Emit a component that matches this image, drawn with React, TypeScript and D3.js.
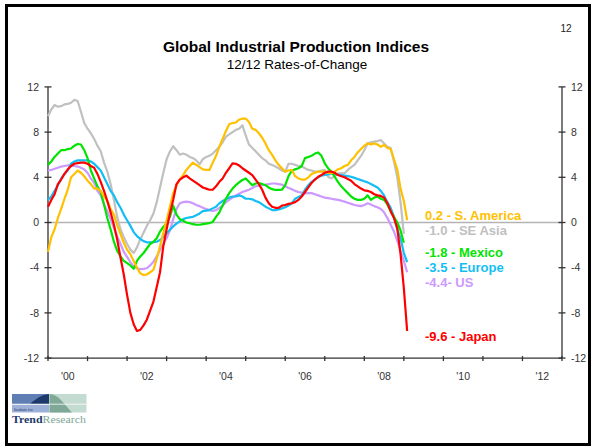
import React from "react";
import * as d3 from "d3";

// monthly 12/12 rates-of-change, month 0 = Jan 2000
const seAsia = [
  9.4, 10.0, 10.4, 10.25, 10.3, 10.45, 10.5, 10.6, 10.85, 10.75, 9.8, 8.8,
  8.3, 7.9, 7.4, 6.8, 6.3, 5.3, 4.5, 3.4, 2.0, 0.5, -0.6, -1.3,
  -1.9, -2.4, -2.7, -2.2, -1.5, -0.9, -0.3, 0.2, 0.8, 1.8, 3.1, 4.4,
  5.6, 6.3, 6.75, 6.4, 6.0, 6.1, 6.0, 5.8, 5.7, 5.5, 5.15, 5.6,
  5.8, 5.9, 6.1, 6.4, 6.7, 7.1, 7.6, 7.8, 8.0, 8.2, 8.3, 8.6,
  7.7, 6.9, 6.6, 6.3, 6.0, 5.7, 5.5, 5.2, 5.1, 4.95, 4.8, 4.6,
  4.5, 5.2, 5.2, 5.1, 5.0, 4.95, 4.8, 4.65, 4.6, 4.5, 4.5, 4.6,
  4.65, 4.05, 3.9, 4.1, 4.35, 4.35, 4.35, 4.65, 4.9, 5.1, 5.5, 5.9,
  6.4, 7.0, 7.1, 7.15, 7.2, 7.3, 7.0, 6.7, 6.6, 5.4, 4.0, 1.8,
  -1.0,
];

const sAmerica = [
  -2.6, -1.3, -0.6, 0.4, 1.2, 2.1, 2.9, 4.0, 4.3, 4.6, 4.4, 4.1,
  3.7, 3.4, 3.0, 3.0, 2.8, 2.3, 1.9, 1.2, 0.7, -0.2, -1.0, -1.8,
  -2.4, -2.8, -3.4, -4.0, -4.5, -4.65, -4.6, -4.4, -4.2, -3.2, -2.1, -0.9,
  0.2, 1.4, 2.6, 3.3, 3.8, 4.2, 4.65, 5.0, 5.3, 5.1, 4.9, 4.7,
  4.65, 4.65, 5.3, 5.9, 6.7, 7.4, 8.1, 8.7, 8.8, 8.85, 9.1, 9.2,
  9.2, 8.9, 8.3, 8.2, 7.9, 7.5, 7.0, 6.4, 6.0, 5.5, 5.1, 4.8,
  4.5, 4.6, 4.65, 4.1, 3.9, 3.8, 3.8, 4.0, 4.3, 4.4, 4.5, 4.5,
  4.5, 4.4, 4.35, 4.5, 4.7, 4.8, 5.0, 5.1, 5.5, 5.8, 6.2, 6.5,
  6.8, 7.0, 6.9, 7.0, 6.9, 6.7, 6.86, 6.6, 6.5, 5.6, 4.7, 3.0,
  1.9, 0.2,
];

const mexico = [
  5.1, 5.4, 5.8, 6.1, 6.4, 6.4, 6.5, 6.55, 6.8, 6.95, 6.9, 6.4,
  5.7, 4.6, 3.9, 3.2, 2.7, 1.6, 0.4, -0.6, -1.7, -2.5, -3.0, -3.4,
  -3.6, -3.8, -4.1, -3.4, -3.0, -2.7, -2.3, -1.9, -1.7, -1.4, -0.8, -0.4,
  -0.07, 0.5, 1.5, 0.7, 0.3, 0.15, 0.0, -0.07, -0.15, -0.2, -0.2, -0.15,
  -0.1, -0.05, 0.05, 0.5, 0.9, 1.5, 2.1, 2.6, 3.0, 3.3, 3.55, 3.76,
  3.9, 3.6, 3.3, 3.45, 3.5, 3.4, 3.3, 3.1, 2.95, 2.88, 2.88, 2.9,
  3.3, 4.1, 4.6, 4.7, 4.8, 5.0, 5.7, 5.8, 5.9, 6.1, 6.2, 5.9,
  5.24, 4.8, 4.5, 4.05, 3.6, 3.2, 2.9, 2.6, 2.3, 2.1, 2.0, 2.0,
  2.1, 2.4, 2.0, 2.2, 2.3, 2.1, 2.0, 1.6, 1.0, 0.5, 0.0, -0.7,
  -1.8,
];

const europe = [
  2.0, 2.3, 2.8, 3.3, 3.9, 4.3, 4.6, 5.2, 5.4, 5.5, 5.5, 5.5,
  5.5, 5.4, 5.2, 4.9, 4.6, 4.0, 3.4, 2.8, 2.4, 1.8, 1.3, 0.7,
  0.2, -0.3, -0.85, -1.2, -1.45, -1.65, -1.75, -1.75, -1.75, -1.7, -1.55, -1.3,
  -0.96, -0.65, -0.35, -0.1, 0.1, 0.3, 0.4, 0.45, 0.5, 0.65, 0.8, 1.0,
  1.05, 1.1, 1.25, 1.4, 1.7, 1.9, 2.05, 2.2, 2.3, 2.3, 2.4, 2.3,
  2.1, 2.1, 2.05, 1.9, 1.8, 1.6, 1.4, 1.25, 1.1, 1.1, 1.15, 1.25,
  1.35, 1.5, 1.7, 2.1, 2.25, 2.4, 2.9, 3.3, 3.6, 3.8, 4.0, 4.15,
  4.2, 4.25, 4.3, 4.3, 4.25, 4.2, 4.15, 4.1, 4.05, 3.95, 3.85, 3.75,
  3.65, 3.55, 3.4, 3.25, 3.1, 2.8, 2.4, 1.8, 1.3, 0.5, -0.6, -1.4,
  -2.7, -3.5,
];

const us = [
  4.6, 4.65, 4.75, 4.85, 4.95, 5.0, 5.05, 5.06, 5.0, 4.95, 4.85, 4.7,
  4.4, 3.9, 3.5, 2.8, 2.4, 1.6, 1.0, 0.3, -0.5, -1.2, -1.9, -2.6,
  -3.05, -3.5, -3.9, -4.05, -4.12, -4.1, -4.05, -3.8, -3.47, -3.0, -2.43, -1.9,
  -1.4, -0.7, 0.3, 1.2, 1.7, 1.8, 1.85, 1.8, 1.7, 1.55, 1.45, 1.3,
  1.2, 1.1, 1.02, 1.1, 1.3, 1.5, 1.8, 2.0, 2.2, 2.4, 2.55, 2.7,
  2.8, 2.9, 3.05, 3.2, 3.25, 3.3, 3.35, 3.4, 3.45, 3.45, 3.4, 3.35,
  3.2, 3.05, 2.95, 2.8, 2.7, 2.65, 2.58, 2.6, 2.6, 2.5, 2.4, 2.3,
  2.2, 2.15, 2.1, 2.05, 2.0, 1.93, 1.85, 1.75, 1.65, 1.55, 1.5, 1.45,
  1.55, 1.7, 1.6, 1.45, 1.35, 1.2, 0.9, 0.4, -0.2, -0.8, -1.6, -2.5,
  -3.4, -4.4,
];

const japan = [
  1.4, 2.0, 2.5, 3.4, 3.8, 4.3, 4.7, 5.0, 5.2, 5.25, 5.3, 5.3,
  5.2, 5.0, 4.85, 4.3, 3.6, 2.8, 1.9, 0.9, -0.2, -1.5, -3.1, -4.6,
  -6.4, -8.0, -9.0, -9.6, -9.5, -9.1, -8.6, -7.8, -7.0, -5.7, -4.4, -2.1,
  -0.6, 0.8, 2.0, 3.4, 3.8, 4.0, 4.14, 3.9, 3.7, 3.5, 3.3, 3.1,
  3.0, 2.9, 2.9, 3.2, 3.6, 3.9, 4.4, 4.8, 5.24, 5.2, 5.05, 4.8,
  4.6, 4.4, 4.2, 3.8, 3.4, 2.9, 2.2, 1.7, 1.4, 1.3, 1.3, 1.5,
  1.55, 1.65, 1.7, 1.8, 2.0, 2.3, 2.7, 3.1, 3.5, 3.8, 4.05, 4.2,
  4.4, 4.5, 4.5, 4.4, 4.2, 4.1, 4.0, 3.85, 3.7, 3.4, 3.2, 3.0,
  2.85, 2.8, 2.7, 2.5, 2.4, 2.35, 2.2, 1.7, 1.0, 0.4, -0.5, -2.8,
  -5.8, -9.6,
];

const seriesNames = ["SE Asia", "US", "Europe", "Mexico", "S. America", "Japan"];
const seriesValues = [seAsia, us, europe, mexico, sAmerica, japan];
const seriesColors = ["#C0C0C0", "#CC99FF", "#13BEF4", "#00E400", "#FFC000", "#FF0000"];

const labelTexts = ["0.2 - S. America", "-1.0 - SE Asia", "-1.8 - Mexico", "-3.5 - Europe", "-4.4- US", "-9.6 - Japan"];
const labelColors = ["#FFC000", "#C0C0C0", "#00E400", "#13BEF4", "#CC99FF", "#FF0000"];

const yTicks = [12, 8, 4, 0, -4, -8, -12];
const yearTicks = d3.range(2000, 2014);
const yearLabels = ["'00", "'02", "'04", "'06", "'08", "'10", "'12"];

const FONT = "Arial, 'Liberation Sans', sans-serif";

const Logo = () => (
  <g>
    <rect x={12} y={394} width={37} height={10} fill="#5f7fb4" />
    <path d="M12,404 L30,404 C38,397 42,395 49,394 L49,404 Z" fill="#1d3a6b" />
    <rect x={12} y={404.5} width={37} height={8} fill="#9db0d8" />
    <text x={14} y={410.5} fontSize={4} fill="#1d3a6b" fontFamily="serif">
      Institute for
    </text>
    <rect x={49.5} y={394} width={37} height={18.5} fill="#c3dbd1" />
    <path d="M49.5,394 C58,394 64,404 72,412.5 L49.5,412.5 Z" fill="#7fa897" />
    <line x1={12} x2={86.5} y1={404.2} y2={404.2} stroke="#ffffff" strokeWidth={0.8} />
    <text x={12} y={423} fontSize={10} fontFamily="'Liberation Serif', 'DejaVu Serif', serif" textLength={74} lengthAdjust="spacingAndGlyphs">
      <tspan fill="#1d3a6b" fontWeight="bold">Trend</tspan>
      <tspan fill="#7fa897">Research</tspan>
    </text>
  </g>
);

export default function App() {
  const W = 594;
  const H = 447;
  const left = 48;
  const right = 562;
  const top = 86.9;
  const bottom = 358.1;

  const x = d3.scaleLinear().domain([0, 156]).range([left, right]);
  const y = d3.scaleLinear().domain([-12, 12]).range([bottom, top]);
  const line = d3
    .line<number>()
    .x((_, i) => x(i))
    .y((d) => y(d));

  // label anchor values (vertical placement of end labels)
  const labelAnchors = [0.66, -0.73, -2.67, -4.0, -5.3, -10.04];

  return (
    <svg
      width={W}
      height={H}
      style={{ position: "absolute", left: 0, top: 0, background: "#fff" }}
      fontFamily={FONT}
    >
      <rect x={0} y={0} width={W} height={H} fill="#fff" />
      <rect x={6.5} y={5.5} width={583} height={439} fill="none" stroke="#000" strokeWidth={3} />

      <text x={566} y={32} fontSize={10} textAnchor="middle" fill="#222">12</text>
      <text x={296} y={52} fontSize={15.5} fontWeight="bold" textAnchor="middle" fill="#000">
        Global Industrial Production Indices
      </text>
      <text x={297} y={69} fontSize={13.5} textAnchor="middle" fill="#000">
        12/12 Rates-of-Change
      </text>

      {/* zero line */}
      <line x1={left} x2={right} y1={y(0)} y2={y(0)} stroke="#b4b4b4" strokeWidth={1.5} />

      {/* axes */}
      <g stroke="#333" strokeWidth={1.3}>
        <line x1={left} x2={left} y1={top} y2={bottom} />
        <line x1={right} x2={right} y1={top} y2={bottom} />
        <line x1={left} x2={right} y1={bottom} y2={bottom} />
        {yTicks.map((t) => (
          <g key={"yt" + t}>
            <line x1={left - 3.5} x2={left + 3.5} y1={y(t)} y2={y(t)} />
            <line x1={right - 3.5} x2={right + 3.5} y1={y(t)} y2={y(t)} />
          </g>
        ))}
        {yearTicks.map((yr) => (
          <line key={"xt" + yr} x1={x((yr - 2000) * 12)} x2={x((yr - 2000) * 12)} y1={bottom - 2} y2={bottom + 3} />
        ))}
      </g>
      <g fontSize={10.5} fill="#333">
        {yTicks.map((t) => (
          <text key={"yl" + t} x={39} y={y(t) + 3.7} textAnchor="end">{t}</text>
        ))}
        {yTicks.map((t) => (
          <text key={"yr" + t} x={571} y={y(t) + 3.7}>{t}</text>
        ))}
        {yearLabels.map((lab, i) => (
          <text key={lab} x={x(i * 24 + 6)} y={380} textAnchor="middle">{lab}</text>
        ))}
      </g>

      {/* series */}
      {seriesValues.map((vals, i) => (
        <path
          key={seriesNames[i]}
          d={line(vals) || ""}
          fill="none"
          stroke={seriesColors[i]}
          strokeWidth={2.2}
          strokeLinejoin="round"
        />
      ))}

      {/* end labels */}
      <g fontSize={13} fontWeight="bold">
        {labelTexts.map((t, i) => (
          <text key={t} x={425} y={y(labelAnchors[i]) + 4.6} fill={labelColors[i]}>{t}</text>
        ))}
      </g>

      <Logo />
    </svg>
  );
}
